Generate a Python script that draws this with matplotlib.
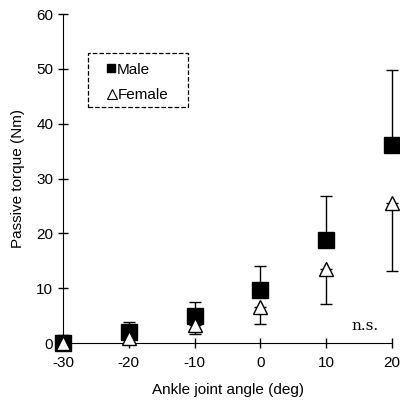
import matplotlib
matplotlib.use('Agg')
from matplotlib import pyplot as plt
from matplotlib.patches import Rectangle

plt.rcParams['font.family'] = ['Liberation Sans', 'DejaVu Sans']
plt.rcParams['axes.unicode_minus'] = False

angles = [-30, -20, -10, 0, 10, 20]
male = [0.0, 2.0, 5.0, 9.7, 18.8, 36.2]
male_sd = [1.5, 1.8, 2.5, 4.3, 8.0, 13.6]
female = [0.0, 1.0, 3.2, 6.6, 13.5, 25.5]
female_sd = [0.0, 0.0, 1.5, 3.1, 6.4, 12.4]

fig = plt.figure(figsize=(4.0, 4.01), dpi=100)
ax = fig.add_axes([0.1575, 0.1446, 0.8225, 0.8204])

# male: upper error bars only, female: lower only
ax.errorbar(angles, male, yerr=[[0] * len(male), male_sd], fmt='s', color='black',
            ms=11, capsize=4, elinewidth=1, capthick=1, clip_on=False, zorder=3)
ax.errorbar(angles, female, yerr=[female_sd, [0] * len(female)], fmt='^', mfc='white',
            mec='black', ecolor='black', ms=10, capsize=4, elinewidth=1, capthick=1,
            clip_on=False, zorder=4)

ax.set_xlim(-30, 20)
ax.set_ylim(0, 60)
ax.set_xticks(angles)
ax.set_yticks(range(0, 61, 10))
ax.spines['top'].set_visible(False)
ax.spines['right'].set_visible(False)
ax.tick_params(direction='inout', length=7, labelsize=11, width=1)
ax.tick_params(axis='x', pad=6)
ax.set_xlabel('Ankle joint angle (deg)', fontsize=11, labelpad=9)
ax.set_ylabel('Passive torque (Nm)', fontsize=11, labelpad=8)

ax.text(17.9, 3.1, 'n.s.', family='serif', fontsize=11, ha='right', va='center')

# legend box drawn by hand (dashed frame)
ax.add_patch(Rectangle((0.076, 0.717), 0.304, 0.164, transform=ax.transAxes,
                       fill=False, ls='--', lw=0.9, ec='black', clip_on=False))
ax.plot([0.146], [0.836], 's', color='black', ms=6, transform=ax.transAxes)
ax.plot([0.149], [0.757], '^', mfc='white', mec='black', mew=0.8, ms=7,
        transform=ax.transAxes)
ax.text(0.164, 0.830, 'Male', transform=ax.transAxes, fontsize=11, va='center')
ax.text(0.167, 0.754, 'Female', transform=ax.transAxes, fontsize=11, va='center')

fig.savefig('out.png', dpi=100)
